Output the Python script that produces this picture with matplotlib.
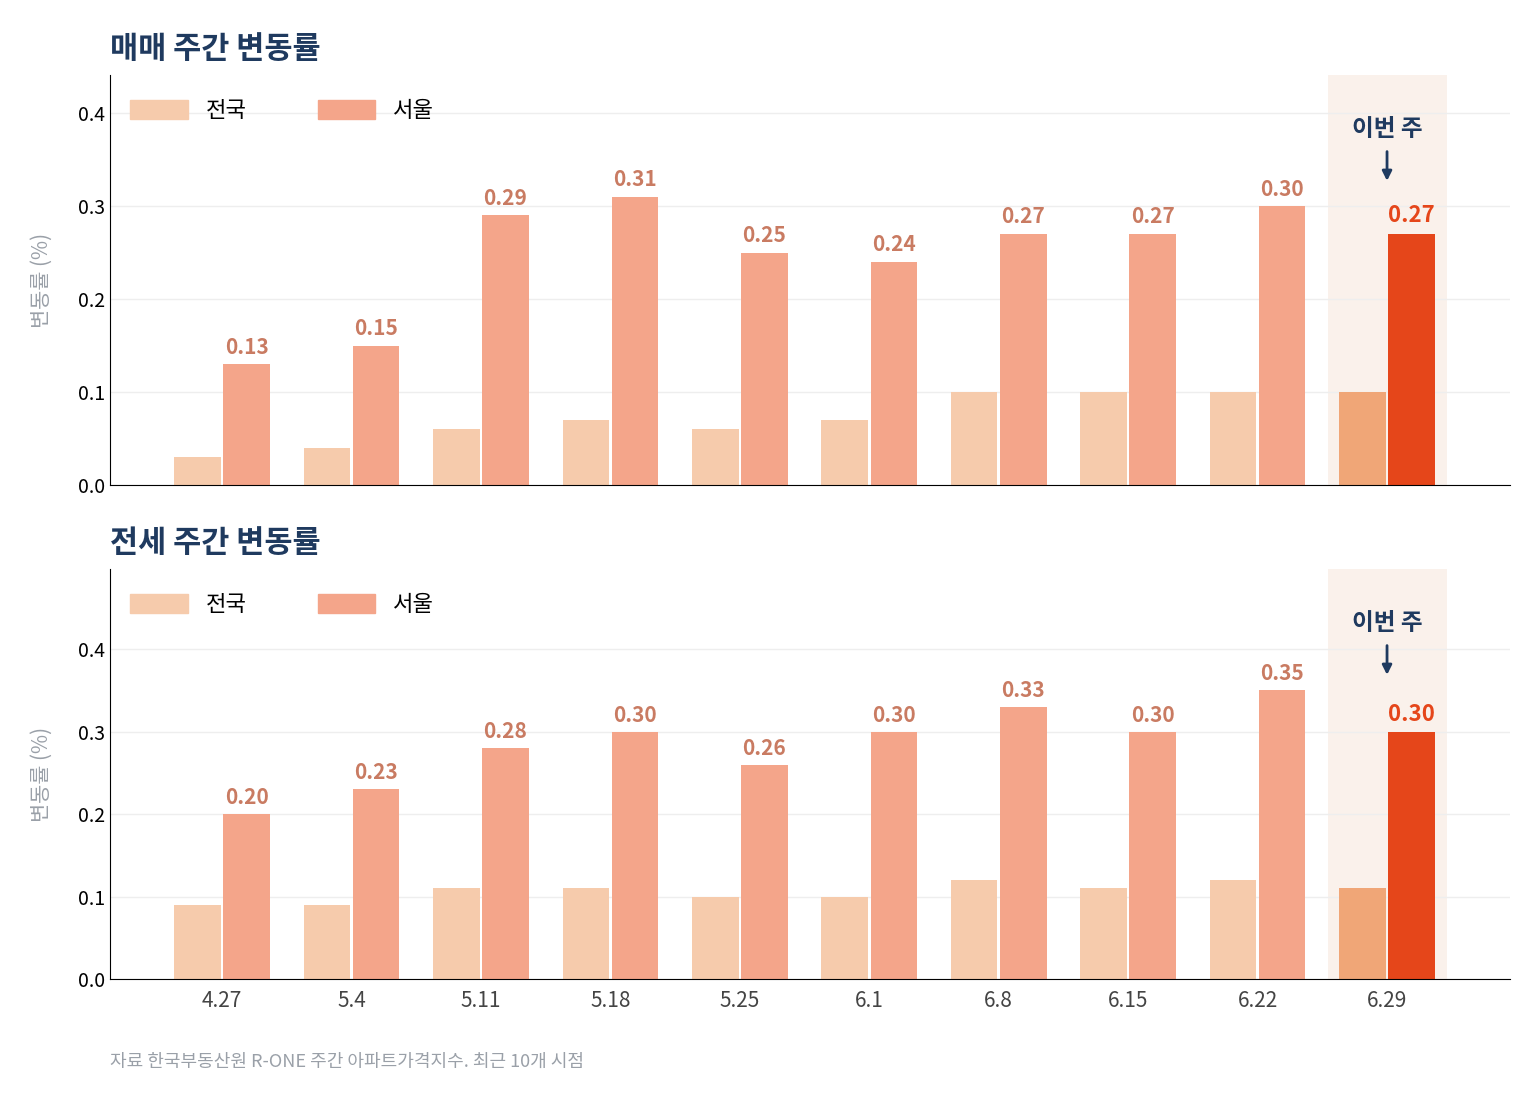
import numpy as np
import matplotlib
matplotlib.use('Agg')
import matplotlib.pyplot as plt

plt.rcParams['font.family'] = ['Noto Sans CJK KR', 'DejaVu Sans']

weeks = ['4.27', '5.4', '5.11', '5.18', '5.25', '6.1', '6.8', '6.15', '6.22', '6.29']
sale_nation = [0.03, 0.04, 0.06, 0.07, 0.06, 0.07, 0.10, 0.10, 0.10, 0.10]
sale_seoul = [0.13, 0.15, 0.29, 0.31, 0.25, 0.24, 0.27, 0.27, 0.30, 0.27]
rent_nation = [0.09, 0.09, 0.11, 0.11, 0.10, 0.10, 0.12, 0.11, 0.12, 0.11]
rent_seoul = [0.20, 0.23, 0.28, 0.30, 0.26, 0.30, 0.33, 0.30, 0.35, 0.30]

NAVY = '#1F3A5F'
C_NAT, C_SEO = '#F6CBAC', '#F4A58A'
H_NAT, H_SEO = '#F0A677', '#E5461A'
LABEL_C = '#C97B62'

fig = plt.figure(figsize=(15.4, 11.04), dpi=100)
ax1 = fig.add_axes([110/1540, 1-485/1104, 1400/1540, 410/1104])
ax2 = fig.add_axes([110/1540, 1-979/1104, 1400/1540, 410/1104])

def draw(ax, nat, seo, title, ymax, yticks):
    x = np.arange(len(weeks))
    w = 0.36
    last = len(weeks) - 1
    ax.axvspan(last - 0.456, last + 0.464, color='#FAF1EB', zorder=0, lw=0)
    cn = [C_NAT] * last + [H_NAT]
    cs = [C_SEO] * last + [H_SEO]
    ax.bar(x - 0.19, nat, w, color=cn, zorder=2, label='전국')
    ax.bar(x + 0.19, seo, w, color=cs, zorder=2, label='서울')
    for i, v in enumerate(seo):
        if i == last:
            ax.text(i + 0.19, v + 0.007, f'{v:.2f}', ha='center', va='bottom',
                    color=H_SEO, fontsize=16, fontweight='bold')
        else:
            ax.text(i + 0.19, v + 0.007, f'{v:.2f}', ha='center', va='bottom',
                    color=LABEL_C, fontsize=15, fontweight='bold')
    ax.set_xlim(-0.866, 9.95)
    ax.set_ylim(0, ymax)
    ax.set_yticks(yticks)
    ax.set_yticklabels([f'{t:.1f}' for t in yticks], fontsize=14)
    ax.yaxis.grid(True, color='#EEEEEE', lw=1, zorder=0)
    ax.set_axisbelow(True)
    for s in ['top', 'right']:
        ax.spines[s].set_visible(False)
    ax.tick_params(axis='y', length=0)
    ax.set_ylabel('변동률 (%)', fontsize=15, color='#9AA0A8', labelpad=18)
    ax.set_title(title, loc='left', fontsize=22, fontweight='bold', color=NAVY, pad=12)
    h, l = ax.get_legend_handles_labels()
    leg = ax.legend([h[0].patches[0], h[1].patches[0]], l, loc='upper left', ncol=2,
                    frameon=False, fontsize=16, handlelength=2.6, handleheight=0.9,
                    columnspacing=3.2, bbox_to_anchor=(0.0, 0.99))
    for p, c in zip(leg.get_patches(), [C_NAT, C_SEO]):
        p.set_color(c)
    # "this week" marker
    ax.annotate('', xy=(last, ymax * 0.735), xytext=(last, ymax * 0.82),
                arrowprops=dict(arrowstyle='-|>', color=NAVY, lw=2, mutation_scale=14))
    ax.text(last, ymax * 0.84, '이번 주', ha='center', va='bottom', fontsize=17,
            fontweight='bold', color=NAVY)

draw(ax1, sale_nation, sale_seoul, '매매 주간 변동률', 0.441, [0.0, 0.1, 0.2, 0.3, 0.4])
draw(ax2, rent_nation, rent_seoul, '전세 주간 변동률', 0.497, [0.0, 0.1, 0.2, 0.3, 0.4])

ax1.set_xticks(np.arange(len(weeks)))
ax1.tick_params(axis='x', length=0, labelbottom=False)
ax2.set_xticks(np.arange(len(weeks)))
ax2.set_xticklabels(weeks, fontsize=15, color='#444444')
ax2.tick_params(axis='x', length=0, pad=8)

fig.text(110/1540, 1-1062/1104, '자료 한국부동산원 R-ONE 주간 아파트가격지수. 최근 10개 시점',
         fontsize=13, color='#9AA0A8', va='center')

fig.savefig('out.png', dpi=100)
